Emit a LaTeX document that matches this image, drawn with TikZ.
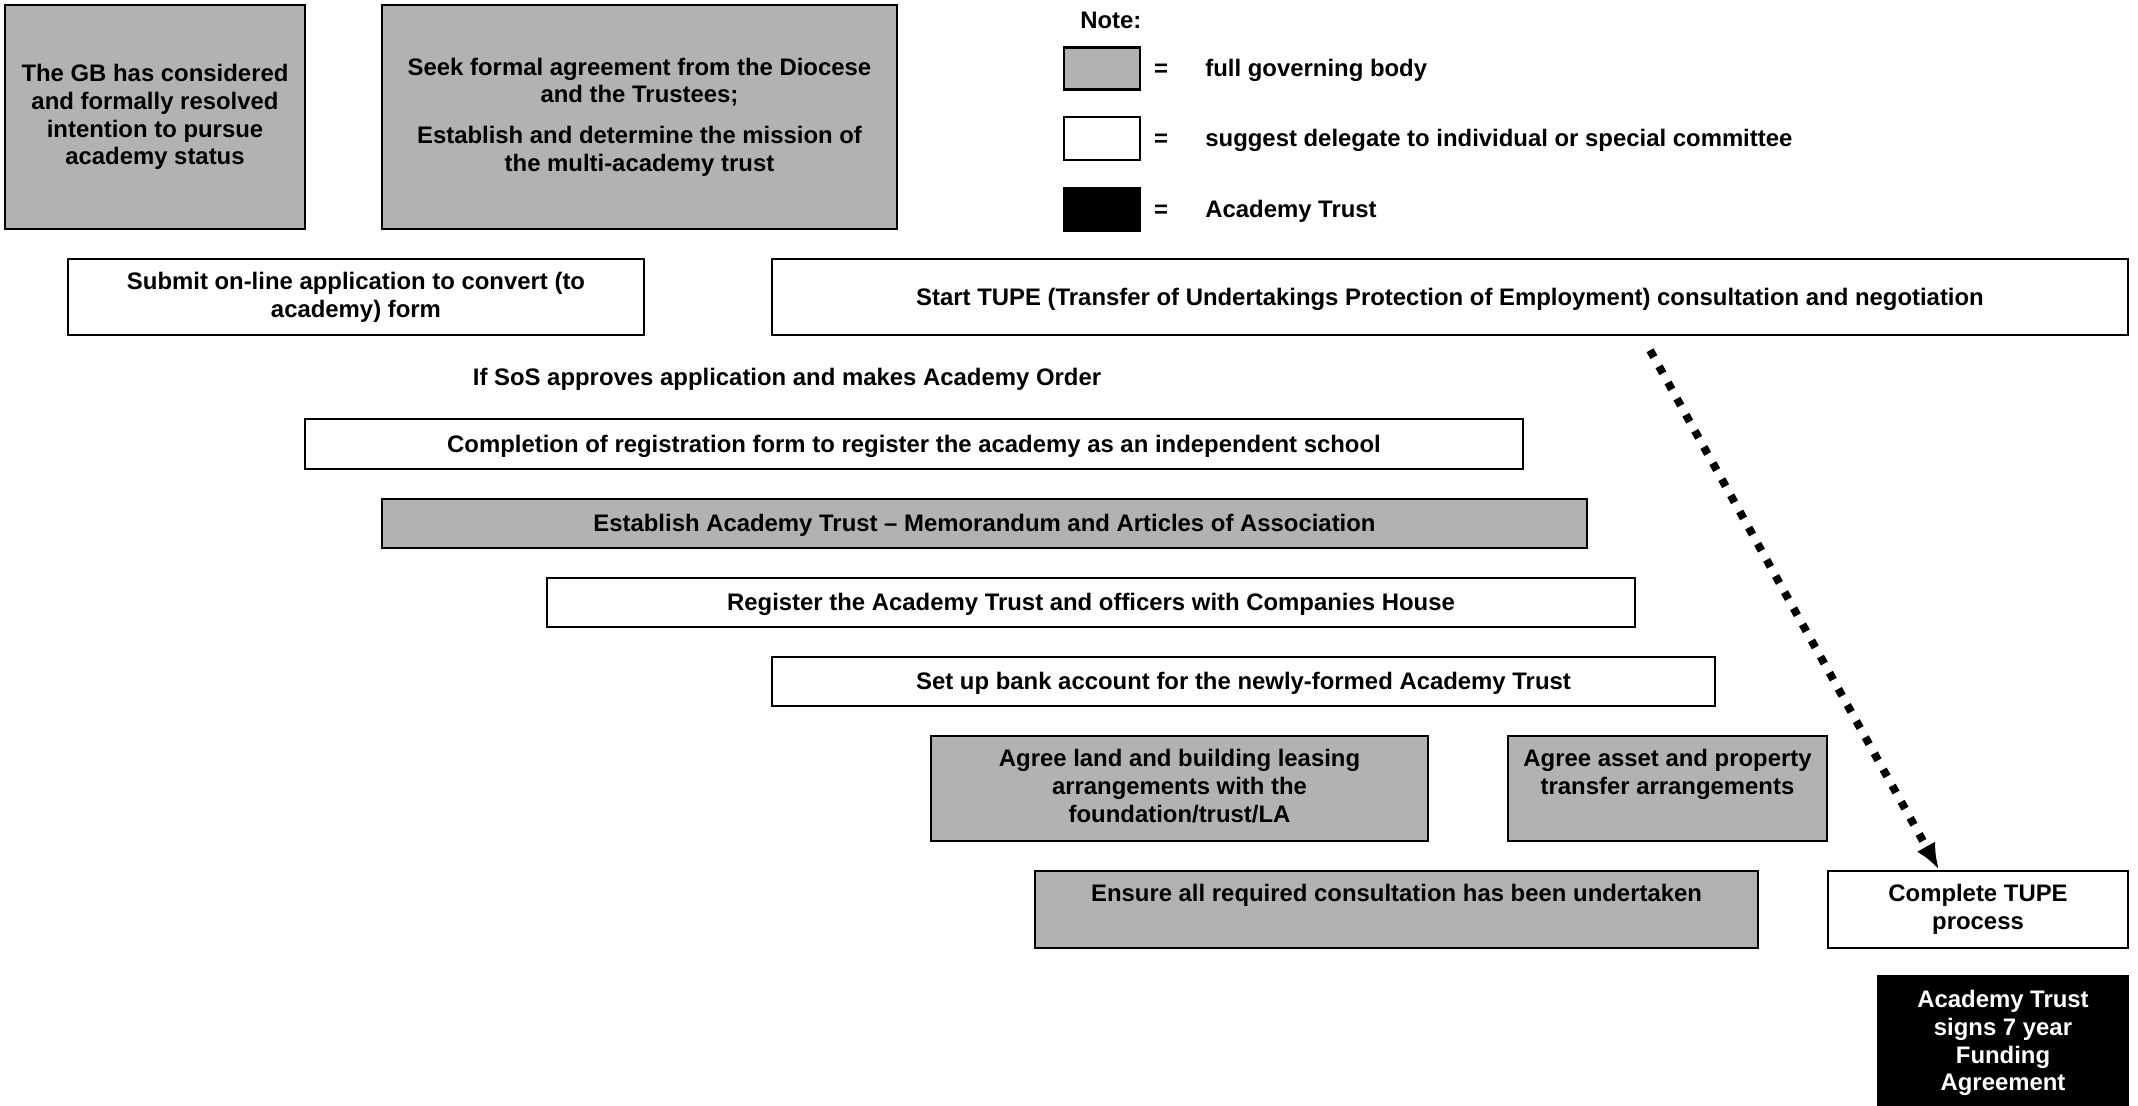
\documentclass[tikz,border=0pt]{standalone}
\usepackage{fontspec}
\setmainfont{Liberation Sans}
\usepackage{tikz}
\usetikzlibrary{shapes,arrows,arrows.meta}
\newcommand{\stagefont}{\fontsize{13.6}{15.8}\selectfont\bfseries}
\newcommand{\linestrut}{\rule[-0.212em]{0pt}{1.117em}}
\tikzstyle{fullgb} = [rectangle, draw, fill=black!30, line width=1.4pt,
    align=center, font=\stagefont, inner sep=0pt,
    execute at begin node=\linestrut, execute at end node=\linestrut]
\tikzstyle{delegate} = [rectangle, draw, fill=white, line width=1.4pt,
    align=center, font=\stagefont, inner sep=0pt,
    execute at begin node=\linestrut, execute at end node=\linestrut]
\tikzstyle{trust} = [rectangle, draw, fill=black, text=white, line width=1.4pt,
    align=center, font=\stagefont, inner sep=0pt,
    execute at begin node=\linestrut, execute at end node=\linestrut]
\tikzstyle{keylabel} = [font=\stagefont, inner sep=0pt,
    execute at begin node=\linestrut]

\begin{document}
\begin{tikzpicture}[auto]
    \useasboundingbox (0,0) rectangle (42.76,-22.1);

    % Place nodes
    \node [fullgb, at={(3.10,-2.34)}, minimum width=6.0cm, minimum height=4.48cm] (resolve)
        {The GB has considered\\and formally resolved\\intention to pursue\\academy status};
    \node [fullgb, at={(12.79,-2.34)}, minimum width=10.3cm, minimum height=4.48cm] (diocese)
        {Seek formal agreement from the Diocese\\and the Trustees;\\[0.25cm]
         Establish and determine the mission of\\the multi-academy trust};

    \node [delegate, at={(7.12,-5.94)}, minimum width=11.52cm, minimum height=1.52cm] (apply)
        {Submit on-line application to convert (to\\academy) form};
    \node [delegate, at={(29.0,-5.94)}, minimum width=27.12cm, minimum height=1.52cm] (tupe)
        {Start TUPE (Transfer of Undertakings Protection of Employment) consultation and negotiation};

    \node [keylabel, at={(15.74,-7.55)}] (sos)
        {If SoS approves application and makes Academy Order};

    \node [delegate, at={(18.28,-8.88)}, minimum width=24.36cm, minimum height=1.0cm] (register)
        {Completion of registration form to register the academy as an independent school};
    \node [fullgb, at={(19.69,-10.47)}, minimum width=24.1cm, minimum height=0.98cm] (memo)
        {Establish Academy Trust -- Memorandum and Articles of Association};
    \node [delegate, at={(21.82,-12.05)}, minimum width=21.76cm, minimum height=0.98cm] (companies)
        {Register the Academy Trust and officers with Companies House};
    \node [delegate, at={(24.87,-13.63)}, minimum width=18.86cm, minimum height=0.98cm] (bank)
        {Set up bank account for the newly-formed Academy Trust};

    \node [fullgb, at={(23.59,-15.77)}, minimum width=9.94cm, minimum height=2.1cm] (lease)
        {Agree land and building leasing\\arrangements with the\\foundation/trust/LA};
    \node [fullgb, at={(33.35,-15.77)}, minimum width=6.38cm, minimum height=2.1cm] (asset)
        {Agree asset and property\\transfer arrangements\\\mbox{}};

    \node [fullgb, at={(27.93,-18.19)}, minimum width=14.46cm, minimum height=1.54cm] (consult)
        {Ensure all required consultation has been undertaken\\\mbox{}};
    \node [delegate, at={(39.56,-18.19)}, minimum width=6.0cm, minimum height=1.54cm] (tupedone)
        {Complete TUPE\\process};

    \node [trust, at={(40.06,-20.86)}, minimum width=5.0cm, minimum height=2.68cm] (funding)
        {Academy Trust\\signs 7 year\\Funding\\Agreement};

    % Key
    \node [keylabel, anchor=west, at={(21.6,-0.40)}] (note) {Note:};
    \node [fullgb, at={(22.04,-1.37)}, minimum width=1.52cm, minimum height=0.84cm] (keygb) {};
    \node [delegate, below of=keygb, node distance=1.40cm, minimum width=1.52cm, minimum height=0.86cm] (keydel) {};
    \node [trust, below of=keydel, node distance=1.42cm, minimum width=1.52cm, minimum height=0.86cm] (keytrust) {};

    \node [keylabel, right of=keygb, node distance=1.18cm] (eqgb) {=};
    \node [keylabel, right of=keydel, node distance=1.18cm] (eqdel) {=};
    \node [keylabel, right of=keytrust, node distance=1.18cm] (eqtrust) {=};

    \node [keylabel, right of=keygb, node distance=2.06cm, anchor=west] {full governing body};
    \node [keylabel, right of=keydel, node distance=2.06cm, anchor=west] {suggest delegate to individual or special committee};
    \node [keylabel, right of=keytrust, node distance=2.06cm, anchor=west] {Academy Trust};

    % Draw lines
    \path (tupe.south) ++(4.0,-0.28) coordinate (tupestart);
    \path [draw, -{Latex[length=15pt,width=12pt]}, line width=4.5pt, dash pattern=on 4.5pt off 6pt]
        (tupestart) -- ([xshift=-0.78cm]tupedone.north);

\end{tikzpicture}
\end{document}
